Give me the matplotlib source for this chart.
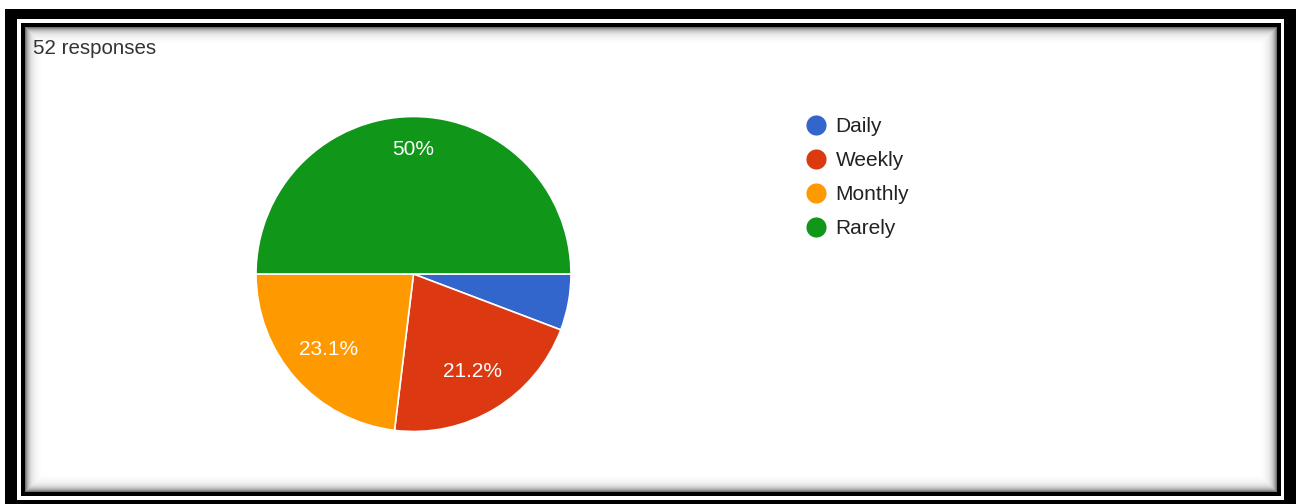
import matplotlib
matplotlib.use("Agg")
import numpy as np
import matplotlib.pyplot as plt
from matplotlib.patches import Rectangle
from matplotlib.lines import Line2D

# Survey answers (52 responses)
categories = ["Daily", "Weekly", "Monthly", "Rarely"]
counts = [3, 11, 12, 26]
colors = ["#3366CC", "#DC3912", "#FF9900", "#109618"]
total_label = "52 responses"

W, H, DPI = 1296, 504, 100
fig = plt.figure(figsize=(W / DPI, H / DPI), dpi=DPI)
fig.patch.set_facecolor("white")

# Background axes in pixel coordinates for the frame
bg = fig.add_axes([0, 0, 1, 1])
bg.set_xlim(0, W)
bg.set_ylim(H, 0)
bg.axis("off")

# outer thick black frame
bg.add_patch(Rectangle((5, 9), 1291, 495, facecolor="black", edgecolor="none"))
bg.add_patch(Rectangle((17, 19), 1284 - 17, 500 - 19, facecolor="white", edgecolor="none"))
# inner thin black frame
bg.add_patch(Rectangle((21, 23), 1281 - 21, 496 - 23, facecolor="black", edgecolor="none"))
# inner shadow fading to white
steps = 16
x0, y0, x1, y1 = 25, 27, 1277, 492
for i in range(steps):
    g = 1.0 - 0.55 * np.exp(-i / 4.0)
    bg.add_patch(Rectangle((x0 + i, y0 + i), (x1 - x0) - 2 * i, (y1 - y0) - 2 * i,
                           facecolor=(g, g, g), edgecolor="none"))
bg.add_patch(Rectangle((x0 + steps, y0 + steps), (x1 - x0) - 2 * steps,
                       (y1 - y0) - 2 * steps, facecolor="white", edgecolor="none"))

bg.text(33, 48, total_label, fontsize=14.8, color="#333333",
        family="Liberation Sans", va="center", ha="left")

# Pie chart
cx, cy, r = 413.5, 274, 157.5
ax = fig.add_axes([(cx - r) / W, (H - cy - r) / H, 2 * r / W, 2 * r / H])


def pct_fmt(p):
    if p < 8:
        return ""
    s = f"{p:.1f}"
    if s.endswith(".0"):
        s = s[:-2]
    return s + "%"


wedges, texts, autotexts = ax.pie(
    counts, colors=colors, startangle=0, counterclock=False,
    autopct=pct_fmt, pctdistance=0.72,
    wedgeprops=dict(edgecolor="white", linewidth=1.2),
    textprops=dict(color="white", fontsize=15, family="Liberation Sans"),
)
# the large top slice carries its label a little further out
big = int(np.argmax(counts))
w = wedges[big]
mid = np.deg2rad((w.theta1 + w.theta2) / 2)
autotexts[big].set_position((0.79 * np.cos(mid), 0.79 * np.sin(mid)))

ax.set_xlim(-1, 1)
ax.set_ylim(-1, 1)
ax.set_aspect("auto")
ax.axis("off")

# Legend
handles = [Line2D([], [], marker="o", linestyle="none", markersize=14.5,
                  markerfacecolor=c, markeredgecolor="none") for c in colors]
fig.legend(handles, categories, loc="upper left",
           bbox_to_anchor=(806 / W, (H - 117) / H), frameon=False,
           prop=dict(family="Liberation Sans", size=15),
           labelcolor="#222222", handletextpad=0.42, labelspacing=0.72,
           handlelength=1.0, borderaxespad=0, borderpad=0)

fig.savefig("out.png", dpi=DPI, facecolor="white")
